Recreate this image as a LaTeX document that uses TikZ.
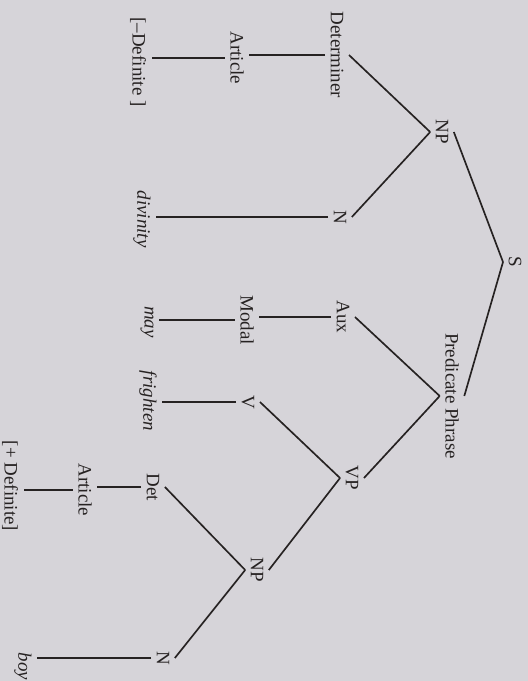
\documentclass[tikz,border=0pt]{standalone}
\usepackage{fontspec}
\setmainfont{Liberation Serif}
\definecolor{paper}{RGB}{214,212,217}
\definecolor{ink}{RGB}{38,34,34}

\begin{document}
\begin{tikzpicture}[x=0.02cm,y=-0.02cm,
  lab/.style={rotate=-90,inner sep=3pt,text=ink,font=\fontsize{10.8}{13}\selectfont},
  word/.style={lab,font=\fontsize{10.8}{13}\selectfont\itshape},
  branch/.style={draw=ink,line width=0.95pt}]
\fill [paper] (0,0) rectangle (528,681);
\useasboundingbox (0,0) rectangle (528,681);
% categories
\node[lab] (S) at (515,262) {S};
\node[lab] (NP1) at (442,132) {NP};
\node[lab] (PredP) at (452,396) {Predicate Phrase};
\node[lab] (Det1) at (337,55) {Determiner};
\node[lab] (Art1) at (237,58) {Article};
\node[lab] (Def1) at (138,62) {[--Definite ]};
\node[lab] (N1) at (340,217) {N};
\node[lab] (Aux) at (343,317) {Aux};
\node[lab] (Modal) at (247,320) {Modal};
\node[lab] (VP) at (352,478) {VP};
\node[lab] (V) at (248,402) {V};
\node[lab] (NP2) at (257,570) {NP};
\node[lab] (Det2) at (153,487) {Det};
\node[lab] (Art2) at (85,490) {Article};
\node[lab] (Def2) at (10,486) {[+ Definite]};
\node[lab] (N2) at (163,658) {N};
% words
\node[word] (divinity) at (142,219) {divinity};
\node[word] (may) at (147,322) {may};
\node[word] (frighten) at (148,401) {frighten};
\node[word,anchor=west] (boy) at (23,647) {boy};
% branches
\foreach \a/\b in {S/NP1,S/PredP,NP1/Det1,NP1/N1,PredP/Aux,PredP/VP,
                   VP/V,VP/NP2,NP2/Det2,NP2/N2}
{       \draw [branch] (\a.south) -- (\b.north);
}
% single daughters: straight across
\foreach \a/\b in {Det1/Art1,Art1/Def1,N1/divinity,Aux/Modal,Modal/may,
                   V/frighten,Det2/Art2,Art2/Def2,N2/boy}
{       \draw [branch] (\a.south) -- (\b.north |- \a.south);
}
\end{tikzpicture}
\end{document}
